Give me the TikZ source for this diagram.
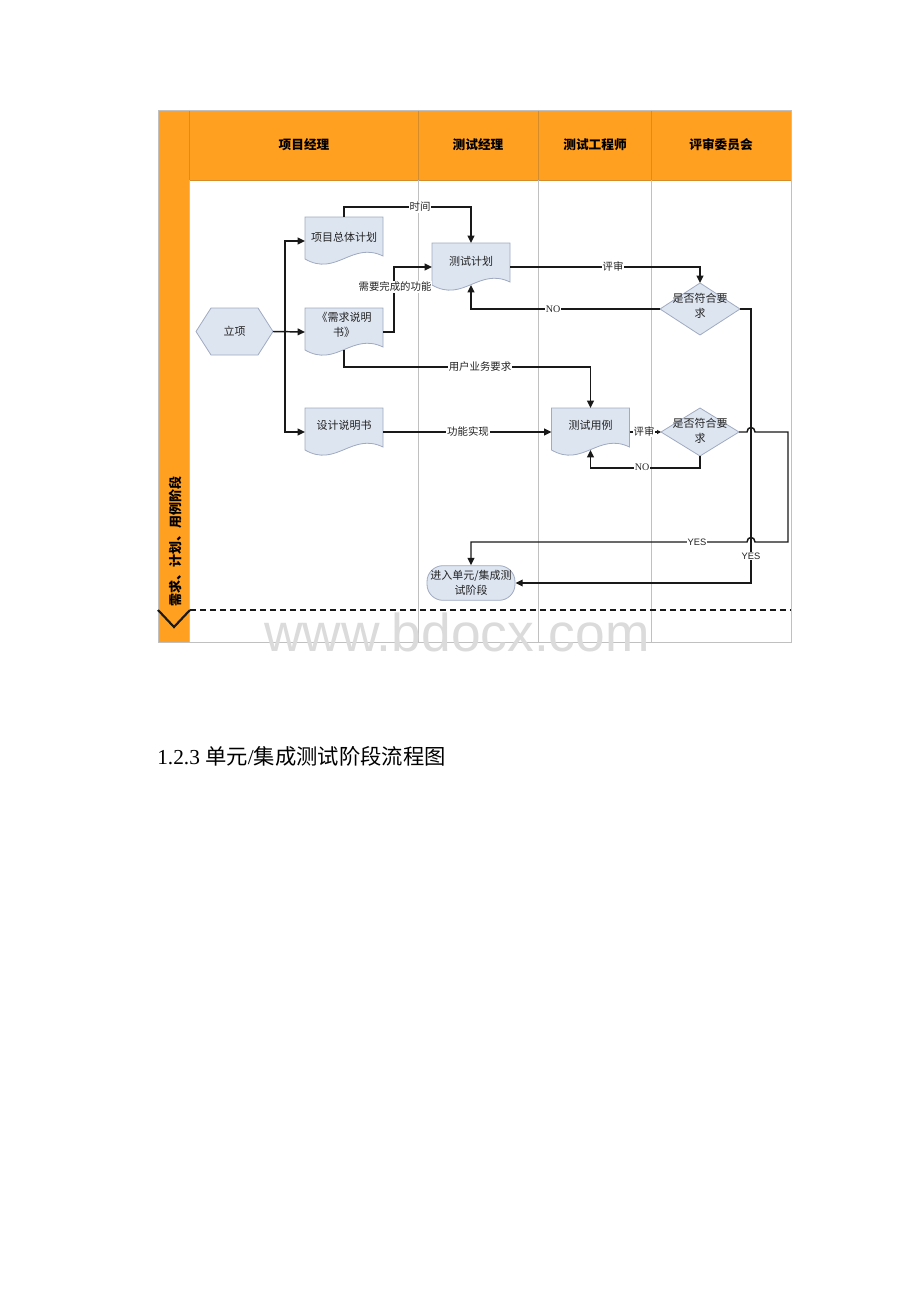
\documentclass[tikz,border=0pt]{standalone}
\usepackage{fontspec}
\setmainfont{Liberation Serif}
\newfontfamily\cjk{Noto Sans CJK SC}
\newfontfamily\arialf{Liberation Sans}
\usetikzlibrary{calc,arrows.meta}
\definecolor{lorange}{RGB}{255,160,32}
\definecolor{hdrline}{RGB}{214,140,40}
\definecolor{laneline}{RGB}{192,192,192}
\definecolor{shpfill}{RGB}{221,229,241}
\definecolor{shpborder}{RGB}{160,170,192}
\definecolor{linec}{RGB}{25,25,25}
\definecolor{txt}{RGB}{35,35,35}
\tikzset{
  conn/.style={draw=linec, line width=1.1pt, -{Triangle[length=5.5pt,width=5pt]}},
  smallconn/.style={draw=linec, line width=1.1pt, -{Triangle[length=3pt,width=3pt]}},
  plainline/.style={draw=linec, line width=1.1pt},
  shp/.style={draw=shpborder, fill=shpfill, line width=0.6pt},
  box/.style={rectangle, inner sep=0pt, outer sep=0pt, draw=none},
  docbox/.style={box, minimum width=58.5pt, minimum height=36pt},
  ctext/.style={font=\cjk\fontsize{8.25pt}{11.25pt}\selectfont, align=center, inner sep=0pt, text=txt},
  lbl/.style={font=\cjk\fontsize{7.8pt}{9pt}\selectfont, fill=white, inner sep=0.8pt, text=txt},
  nolbl/.style={font=\fontsize{7.5pt}{9pt}\selectfont, fill=white, inner sep=0.6pt, text=txt},
  yeslbl/.style={font=\arialf\fontsize{7pt}{8pt}\selectfont, fill=white, inner sep=0.8pt, text=txt},
  hdr/.style={font=\cjk\bfseries\fontsize{9.5pt}{11pt}\selectfont, text=black, inner sep=0pt},
  term/.style={rectangle, draw=shpborder, fill=shpfill, line width=0.6pt, rounded corners=12pt,
    minimum width=66pt, minimum height=26pt, inner sep=0pt, align=center,
    font=\cjk\fontsize{8.25pt}{11.25pt}\selectfont, text=txt},
}
\newcommand{\docshape}[5]{%
  \node[docbox] (#1) at (#2,#3) {};
  \draw[shp] (#1.north west) -- (#1.north east) -- ($(#1.south east)+(0,-9)$)
     .. controls ($(#1.south west)+(46.8,-24)$) and ($(#1.south west)+(31.2,12)$) ..
     ($(#1.south west)+(0,-6)$) -- cycle;
  \node[ctext] (#1-t) at ($(#1.center)+(0,#4)$) {#5};
}
\begin{document}
\begin{tikzpicture}[x=0.75pt,y=-0.75pt]
\useasboundingbox (0,0) rectangle (920,1302);
\fill[white] (0,0) rectangle (920,1302);

% frame
\fill[lorange] (158,110) rectangle (791,180);
\fill[lorange] (158,180) rectangle (189,642);
\foreach \xx in {189,418,538,651} {
  \draw[hdrline, line width=0.6pt] (\xx,110) -- (\xx,180);
}
\draw[hdrline, line width=0.6pt] (189,180) -- (791,180);
\foreach \xx in {418,538,651} {
  \draw[laneline, line width=0.6pt] (\xx,180) -- (\xx,642);
}
\draw[laneline, line width=0.6pt] (189,180) -- (189,642);
\draw[laneline, line width=0.7pt] (158,110) rectangle (791,642);

% header texts
\node[hdr] (h1) at (304,145) {项目经理};
\node[hdr] (h2) at (478,145) {测试经理};
\node[hdr] (h3) at (595,145) {测试工程师};
\node[hdr] (h4) at (721,145) {评审委员会};
\node[hdr, rotate=90, font=\cjk\bfseries\fontsize{9.75pt}{11pt}\selectfont] (lane) at (175,541) {需求、计划、用例阶段};

% separator
\draw[linec, line width=1.6pt, dash pattern=on 4.5pt off 3pt] (190,610) -- (791,610);
\draw[linec, line width=1.6pt] (158,610) -- (174,627) -- (190,610);

% hexagon
\node[box, minimum width=57.75pt, minimum height=35.25pt] (lx) at (234.5,331.5) {};
\draw[shp] (lx.west) -- ($(lx.north west)+(15,0)$) -- ($(lx.north east)+(-15,0)$) -- (lx.east)
  -- ($(lx.south east)+(-15,0)$) -- ($(lx.south west)+(15,0)$) -- cycle;
\node[ctext] (lx-t) at (lx.center) {立项};

% documents
\docshape{plan}{344}{241}{-4}{项目总体计划}
\docshape{req}{344}{332}{-7.5}{《需求说明\\书》}
\docshape{design}{344}{432}{-7}{设计说明书}
\docshape{tplan}{471}{267}{-6}{测试计划}
\docshape{tcase}{590.5}{432}{-7}{测试用例}

% diamonds
\node[box, minimum width=60pt, minimum height=39pt] (d1) at (700,309) {};
\draw[shp] (d1.north) -- (d1.east) -- (d1.south) -- (d1.west) -- cycle;
\node[ctext] (d1-t) at (700,305.5) {是否符合要\\求};
\node[box, minimum width=58.5pt, minimum height=36pt] (d2) at (700,432) {};
\draw[shp] (d2.north) -- (d2.east) -- (d2.south) -- (d2.west) -- cycle;
\node[ctext] (d2-t) at (700,430.5) {是否符合要\\求};

% terminator
\node[term] (enter) at (471,583) {进入单元/集成测\\试阶段};

% connectors
\draw[conn] (lx.east) -- (req.west);
\draw[conn] ($(lx.east)+(12,0)$) |- (plan.west);
\draw[conn] ($(lx.east)+(12,0)$) |- (design.west);
\draw[conn] (plan.north) -- ++(0,-10) -| (tplan.north);
\draw[conn] (req.east) -- ++(11,0) |- (tplan.west);
\draw[conn] ($(req.south)+(0,-6)$) -- ++(0,17) -| (tcase.north);
\draw[conn] (tplan.east) -| (d1.north);
\draw[conn] (d1.west) -| ($(tplan.south)+(0,-6)$);
\draw[conn] (design.east) -- (tcase.west);
\draw[smallconn] (tcase.east) -- (d2.west);
\draw[conn] (d2.south) -- ++(0,12) -| ($(tcase.south)+(0,-6)$);
\draw[conn] (d1.east) -- ++(11,0) |- (enter.east);
\draw[conn] (d2.east) -- (747,432) .. controls (747,426) and (755,426) .. (755,432)
  -- (788,432) -- (788,542) -- (755,542) .. controls (755,536) and (747,536) .. (747,542)
  -| (enter.north);

% labels
\node[lbl] (l1) at (420,207) {时间};
\node[lbl] (l2) at (395,287) {需要完成的功能};
\node[lbl] (l3) at (613,267) {评审};
\node[nolbl] (l4) at (553,309) {NO};
\node[lbl] (l5) at (480,367) {用户业务要求};
\node[lbl] (l6) at (468,432) {功能实现};
\node[lbl, inner sep=0.3pt] (l7) at (644,432) {评审};
\node[nolbl] (l8) at (642,467) {NO};
\node[yeslbl] (l9) at (697,542) {YES};
\node[yeslbl] (l10) at (751,556) {YES};

% watermark
\node[font=\arialf\fontsize{40pt}{40pt}\selectfont, text=black!14, anchor=base, inner sep=0pt] (wm) at (457,651) {www.bdocx.com};

% title
\node[anchor=base west, inner sep=0pt, font=\fontsize{16pt}{18pt}\selectfont, text=black] (title) at (157,764)
  {1.2.3 {\cjk 单元}/{\cjk 集成测试阶段流程图}};
\end{tikzpicture}
\end{document}
